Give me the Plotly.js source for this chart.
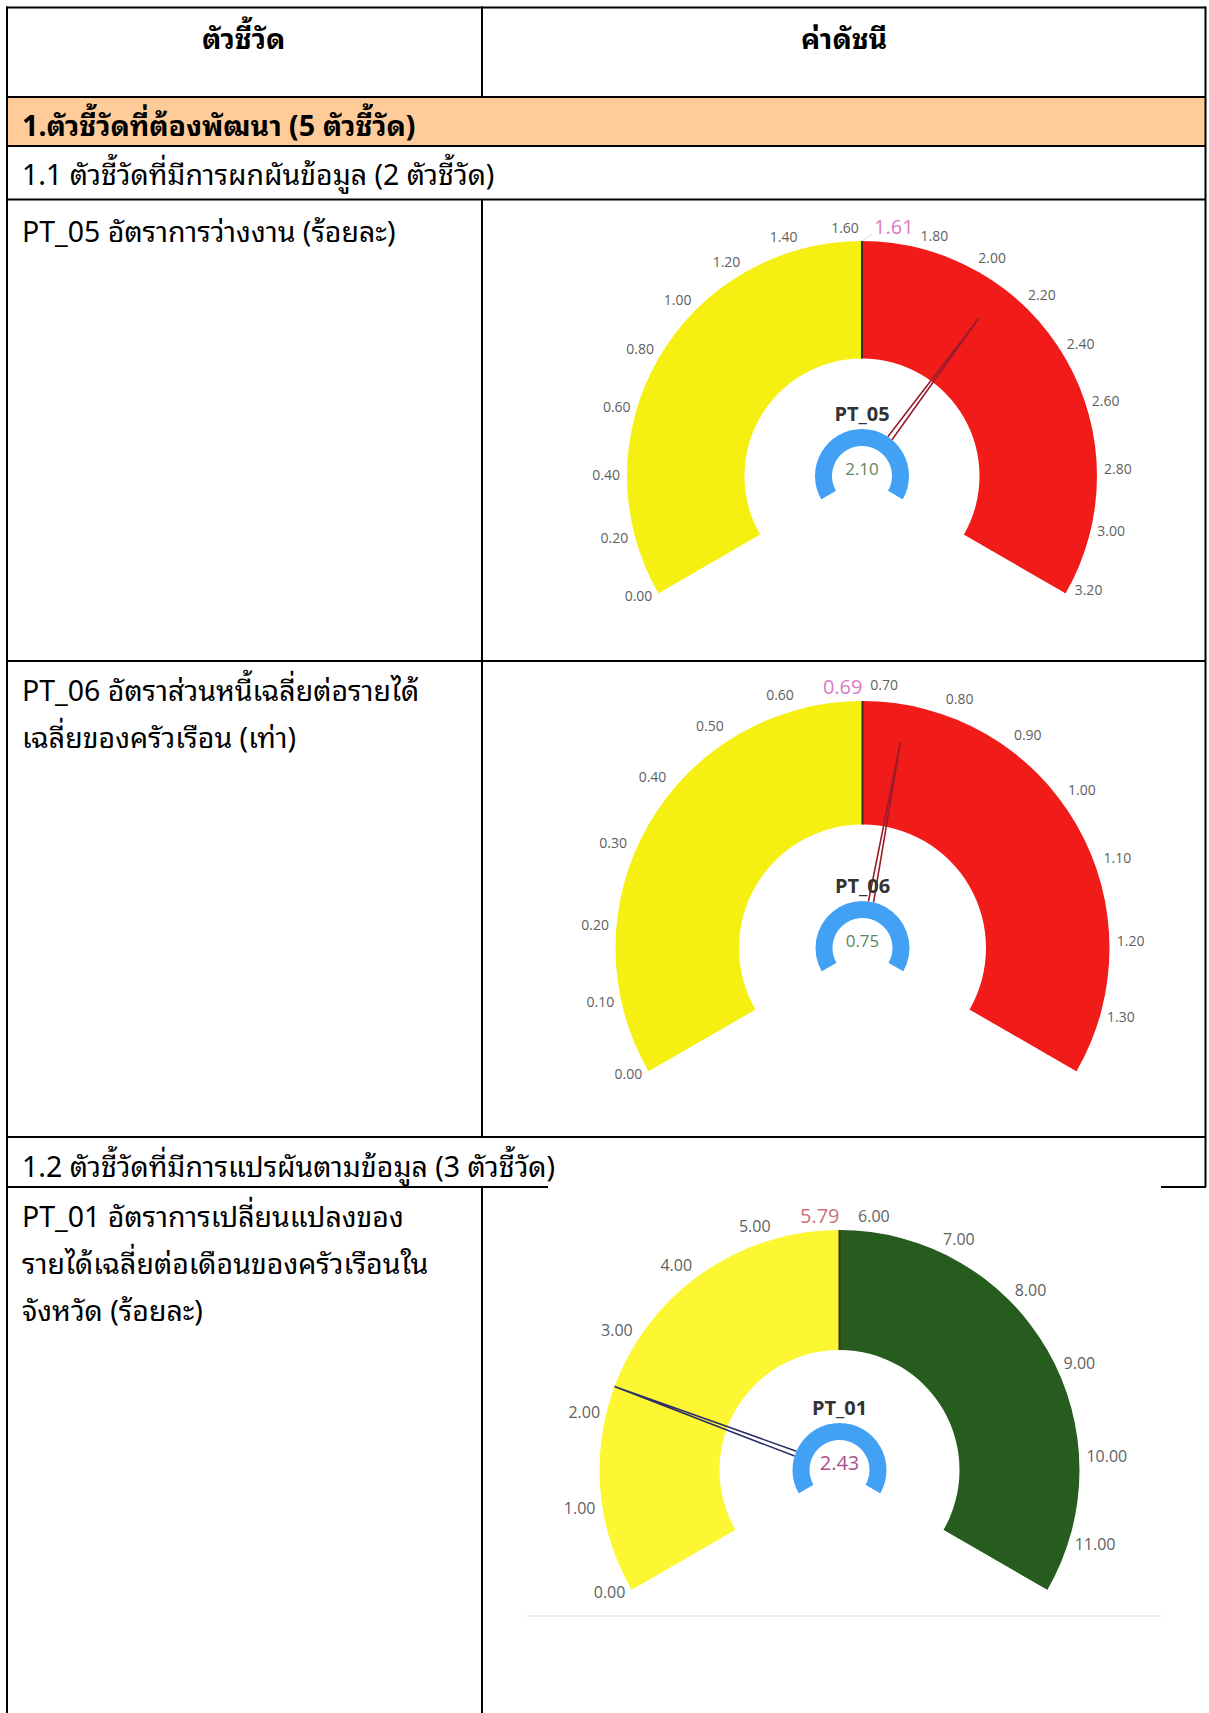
<!DOCTYPE html>
<html><head><meta charset="utf-8">
<script src="https://cdn.plot.ly/plotly-3.0.1.min.js"></script>
<style>html,body{margin:0;padding:0;background:#fff}</style>
</head><body><div id="chart" style="width:1209px;height:1713px"></div>
<script>
// ---------------- data ----------------
const gaugeIds = ['PT_05', 'PT_06', 'PT_01'];
const gaugeValues = [2.10, 0.75, 2.43];
const gaugeTargets = [1.61, 0.69, 5.79];
const gaugeMin = [0, 0, 0];
const gaugeMax = [3.22, 1.38, 11.58];
const ticksPT05 = [0.00, 0.20, 0.40, 0.60, 0.80, 1.00, 1.20, 1.40, 1.60, 1.80, 2.00, 2.20, 2.40, 2.60, 2.80, 3.00, 3.20];
const ticksPT06 = [0.00, 0.10, 0.20, 0.30, 0.40, 0.50, 0.60, 0.70, 0.80, 0.90, 1.00, 1.10, 1.20, 1.30];
const ticksPT01 = [0, 1, 2, 3, 4, 5, 6, 7, 8, 9, 10, 11];
const gaugeTicks = [ticksPT05, ticksPT06, ticksPT01];

const headerTexts = ['ตัวชี้วัด', 'ค่าดัชนี'];
const sectionText = '1.ตัวชี้วัดที่ต้องพัฒนา (5 ตัวชี้วัด)';
const groupTexts = ['1.1 ตัวชี้วัดที่มีการผกผันข้อมูล (2 ตัวชี้วัด)', '1.2 ตัวชี้วัดที่มีการแปรผันตามข้อมูล (3 ตัวชี้วัด)'];
const indicatorLines = [
  ['PT_05 อัตราการว่างงาน (ร้อยละ)'],
  ['PT_06 อัตราส่วนหนี้เฉลี่ยต่อรายได้', 'เฉลี่ยของครัวเรือน (เท่า)'],
  ['PT_01 อัตราการเปลี่ยนแปลงของ', 'รายได้เฉลี่ยต่อเดือนของครัวเรือนใน', 'จังหวัด (ร้อยละ)']
];

// ---------------- styles / layout ----------------
const W = 1209, H = 1713;
const px = x => x / W;
const py = y => 1 - y / H;
const SPAN = 240;      // gauge sweep in degrees
const RMAX = 1.2;      // radial range (1 = outer edge of the band)
const geom = [
  {cx: 862, cy: 476, R: 235},
  {cx: 862.5, cy: 948, R: 247},
  {cx: 839.5, cy: 1470, R: 240}
];
const lowColors = ['#f6ef12', '#f6ef12', '#fcf633'];
const highColors = ['#f11b19', '#f11b19', '#275c1f'];
const needleColors = ['#9a1b2b', '#9a1b2b', '#2c2f6b'];
const valueColors = ['#5e855e', '#5e855e', '#a8508a'];
const targetColors = ['#dc7ac4', '#dc7ac4', '#d0707c'];
const needleLen = [0.834, 0.846, 1.0];
const tickSize = [14, 14, 16];
const tickRTop = [1.018, 1.03, 1.018];
const valueSize = [17, 17, 20];
const numFont = "'Segoe UI', 'Open Sans', 'Noto Sans', sans-serif";
const thaiFont = "'Leelawadee UI', Tahoma, 'Noto Sans Thai Looped', Loma, Garuda, 'Noto Sans Thai', 'Noto Sans', sans-serif";

const traces = [];
const polars = {};
const overlay = [];

gaugeIds.forEach((id, i) => {
  const g = geom[i];
  const sp = i === 0 ? 'polar' : 'polar' + (i + 1);
  const mn = gaugeMin[i], mx = gaugeMax[i];
  const ang = v => (v - mn) / (mx - mn) * SPAN;
  const phi = v => ang(v) - SPAN / 2; // degrees from vertical
  const tA = ang(gaugeTargets[i]);
  const vA = ang(gaugeValues[i]);
  const Rp = g.R * RMAX;

  polars[sp] = {
    domain: {x: [px(g.cx - Rp), px(g.cx + Rp)], y: [py(g.cy + 0.5 * Rp), py(g.cy - Rp)]},
    sector: [90 - SPAN / 2, 90 + SPAN / 2],
    hole: 0,
    bgcolor: 'rgba(0,0,0,0)',
    angularaxis: {rotation: 90 + SPAN / 2, direction: 'clockwise', visible: false, showline: false, showgrid: false},
    radialaxis: {range: [0, RMAX], visible: false, showline: false, showgrid: false}
  };

  // bands
  traces.push({
    type: 'barpolar', subplot: sp,
    theta: [tA / 2, (tA + SPAN) / 2],
    width: [tA, SPAN - tA],
    r: [0.5, 0.5], base: [0.5, 0.5],
    marker: {color: [lowColors[i], highColors[i]], line: {width: 0}},
    hoverinfo: 'skip'
  });
  // small centre ring
  const rIn = 30 / g.R, rOut = 47 / g.R;
  traces.push({
    type: 'barpolar', subplot: sp,
    theta: [SPAN / 2], width: [SPAN], r: [rOut - rIn], base: [rIn],
    marker: {color: '#42a1f5', line: {width: 0}}, hoverinfo: 'skip'
  });
  overlay.push({sp, i, g, ang, phi, tA, vA, rOut});
});

overlay.forEach(({sp, i, g, ang, phi, tA, vA, rOut}) => {
  // target line
  traces.push({
    type: 'scatterpolar', subplot: sp, mode: 'lines',
    r: [0.5, 1], theta: [tA, tA],
    line: {color: '#3b2f1c', width: 2}, hoverinfo: 'skip'
  });
  // needle
  const d = 2.6 / 47 * 180 / Math.PI;
  traces.push({
    type: 'scatterpolar', subplot: sp, mode: 'lines',
    r: [rOut, needleLen[i], rOut], theta: [vA - d, vA, vA + d],
    line: {color: needleColors[i], width: 1.6}, hoverinfo: 'skip'
  });
  // tick labels
  const ticks = gaugeTicks[i];
  traces.push({
    type: 'scatterpolar', subplot: sp, mode: 'text', cliponaxis: false,
    r: ticks.map(t => Math.abs(phi(t)) <= 80 ? tickRTop[i] : 1.03), theta: ticks.map(ang),
    text: ticks.map(t => t.toFixed(2)),
    textposition: ticks.map(t => {
      const p = phi(t);
      const side = p < 0 ? 'left' : 'right';
      return (Math.abs(p) <= 80 ? 'top ' : 'middle ') + side;
    }),
    textfont: {family: numFont, size: tickSize[i], color: '#5f5f5f'},
    hoverinfo: 'skip'
  });
  // target label (placed on the side away from the nearest tick label)
  let near = ticks[0];
  ticks.forEach(t => { if (Math.abs(t - gaugeTargets[i]) < Math.abs(near - gaugeTargets[i])) near = t; });
  const rightSide = near <= gaugeTargets[i];
  const lblR = 1.0;
  const lblOff = rightSide ? 12 / (g.R * lblR) * 180 / Math.PI : 0;
  if (rightSide) {
    // faint leader from the arc to the label
    traces.push({
      type: 'scatterpolar', subplot: sp, mode: 'lines', cliponaxis: false,
      r: [1.0, 1.03], theta: [tA, tA + lblOff * 0.8],
      line: {color: '#d8d8d8', width: 1}, hoverinfo: 'skip'
    });
  }
  traces.push({
    type: 'scatterpolar', subplot: sp, mode: 'text', cliponaxis: false,
    r: [lblR + 0.01], theta: [tA + lblOff], text: [gaugeTargets[i].toFixed(2)],
    textposition: rightSide ? 'top right' : 'top left',
    textfont: {family: numFont, size: 20, color: targetColors[i]}, hoverinfo: 'skip'
  });
  // centre texts
  traces.push({
    type: 'scatterpolar', subplot: sp, mode: 'text', cliponaxis: false,
    r: [60 / g.R], theta: [SPAN / 2], text: ['<b>' + gaugeIds[i] + '</b>'],
    textposition: 'middle center',
    textfont: {family: numFont, size: 20, color: '#333333'}, hoverinfo: 'skip'
  });
  traces.push({
    type: 'scatterpolar', subplot: sp, mode: 'text', cliponaxis: false,
    r: [5 / g.R], theta: [SPAN / 2], text: [gaugeValues[i].toFixed(2)],
    textposition: 'middle center',
    textfont: {family: numFont, size: valueSize[i], color: valueColors[i]}, hoverinfo: 'skip'
  });
});

// table lines
const shapes = [];
shapes.push({type: 'rect', xref: 'paper', yref: 'paper', x0: px(7), x1: px(1205), y0: py(97), y1: py(146), fillcolor: '#ffcc99', line: {width: 0}, layer: 'below'});
const hl = (y, x0, x1) => shapes.push({type: 'line', xref: 'paper', yref: 'paper', x0: px(x0), x1: px(x1), y0: py(y), y1: py(y), line: {color: '#000', width: 2}});
const vl = (x, y0, y1) => shapes.push({type: 'line', xref: 'paper', yref: 'paper', x0: px(x), x1: px(x), y0: py(y0), y1: py(y1), line: {color: '#000', width: 2}});
hl(7.5, 6, 1206); hl(97, 6, 1206); hl(146, 6, 1206); hl(199.5, 6, 1206);
hl(661, 6, 1206); hl(1137, 6, 1206); hl(1187, 6, 548); hl(1187, 1161, 1206);
vl(7, 6.5, 1713); vl(1205.5, 6.5, 1187);
vl(482, 6.5, 97); vl(482, 199.5, 1137); vl(482, 1187, 1713);
shapes.push({type: 'line', xref: 'paper', yref: 'paper', x0: px(527), x1: px(1161), y0: py(1616), y1: py(1616), line: {color: '#ececec', width: 2}});

// table texts
const ann = [];
const FS = 28.5;
const tfont = (s, c) => ({family: thaiFont, size: s, color: c || '#000'});
ann.push({x: px(243), y: py(36), text: '<b>' + headerTexts[0] + '</b>', xanchor: 'center', yanchor: 'middle', font: tfont(FS)});
ann.push({x: px(844), y: py(36), text: '<b>' + headerTexts[1] + '</b>', xanchor: 'center', yanchor: 'middle', font: tfont(FS)});
ann.push({x: px(20), y: py(123), text: '<b>' + sectionText + '</b>', xanchor: 'left', yanchor: 'middle', font: tfont(FS)});
ann.push({x: px(20), y: py(172), text: groupTexts[0], xanchor: 'left', yanchor: 'middle', font: tfont(FS)});
ann.push({x: px(20), y: py(1164), text: groupTexts[1], xanchor: 'left', yanchor: 'middle', font: tfont(FS)});
const firstLineY = [229, 688, 1214];
indicatorLines.forEach((lines, i) => {
  lines.forEach((t, k) => {
    ann.push({x: px(20), y: py(firstLineY[i] + 47 * k), text: t, xanchor: 'left', yanchor: 'middle', font: tfont(FS)});
  });
});
ann.forEach(a => { a.xref = 'paper'; a.yref = 'paper'; a.showarrow = false; });

const layout = Object.assign({
  width: W, height: H,
  margin: {l: 0, r: 0, t: 0, b: 0},
  paper_bgcolor: '#ffffff', plot_bgcolor: '#ffffff',
  showlegend: false,
  shapes: shapes,
  annotations: ann
}, polars);

Plotly.newPlot('chart', traces, layout, {staticPlot: true});
</script></body></html>
